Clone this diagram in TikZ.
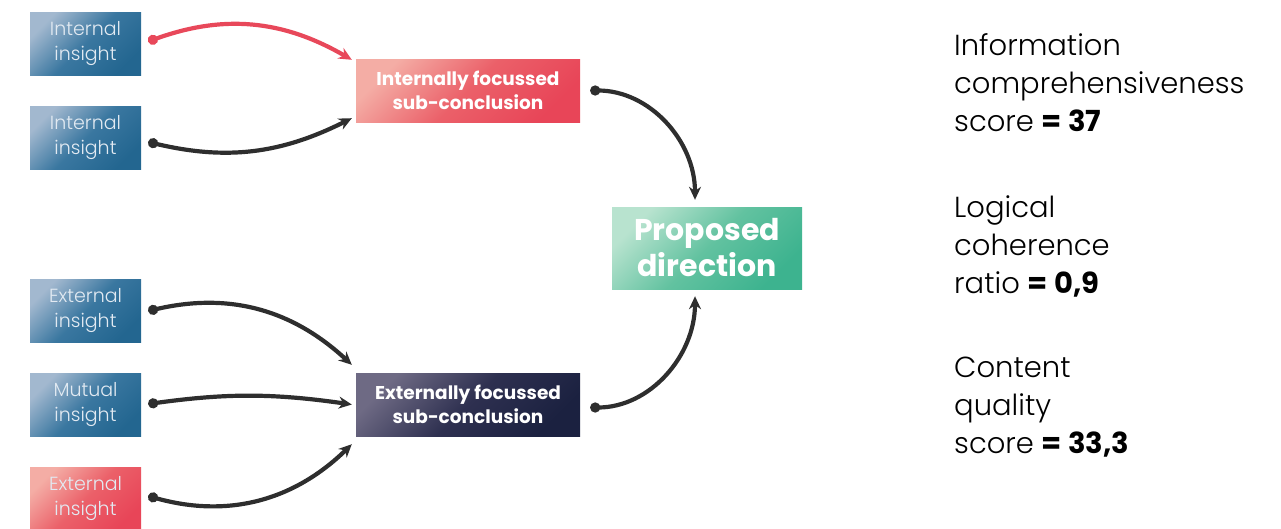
\documentclass[tikz,border=0pt]{standalone}
\usepackage{fontspec}
\setmainfont{Poppins}
\IfFontExistsTF{Poppins Light}{\newfontfamily\lightfont{Poppins Light}}{\newfontfamily\lightfont{Lato}}
\usetikzlibrary{arrows.meta}
\definecolor{bluelight}{HTML}{A2B8CF}
\definecolor{bluemid}{HTML}{3A77A0}
\definecolor{bluedark}{HTML}{236690}
\definecolor{redlight}{HTML}{F4ADA5}
\definecolor{redmid}{HTML}{EB6069}
\definecolor{reddark}{HTML}{E84558}
\definecolor{greenlight}{HTML}{B8E3CF}
\definecolor{greenmid}{HTML}{62C2A0}
\definecolor{greendark}{HTML}{3DB38F}
\definecolor{navylight}{HTML}{6E6A84}
\definecolor{navymid}{HTML}{2E3050}
\definecolor{navydark}{HTML}{1B2140}
\definecolor{linkgray}{HTML}{2E2E2E}
\definecolor{linkred}{HTML}{E8485A}
\definecolor{insighttext}{HTML}{E2EAF2}
\begin{document}
\begin{tikzpicture}[x=1pt,y=-1pt,
  box/.style={minimum width=111pt, minimum height=63pt, inner sep=0pt, align=center,
    font=\lightfont\fontsize{19}{25}\selectfont, text=insighttext},
  bluebox/.style={box, top color=bluelight, bottom color=bluedark, middle color=bluemid, shading angle=45},
  redbox/.style={box, top color=redlight, bottom color=reddark, middle color=redmid, shading angle=45},
  subbox/.style={minimum width=224pt, minimum height=63pt, inner sep=0pt, align=center,
    font=\bfseries\fontsize{18.5}{24}\selectfont, text=white},
  subred/.style={subbox, top color=redlight, bottom color=reddark, middle color=redmid, shading angle=45},
  subnavy/.style={subbox, top color=navylight, bottom color=navydark, middle color=navymid, shading angle=45},
  resultbox/.style={minimum width=190pt, minimum height=82pt, inner sep=0pt, align=center,
    font=\bfseries\fontsize{30}{36}\selectfont, text=white,
    top color=greenlight, bottom color=greendark, middle color=greenmid, shading angle=45},
  link/.style={line width=4.2pt, draw=linkgray, {Circle[length=10pt]}-{Stealth[length=13pt,width=12pt]}},
  redlink/.style={link, draw=linkred},
  metric/.style={anchor=north west, align=left, inner sep=0pt,
    font=\lightfont\fontsize{29}{38}\selectfont, text=black}
]
\useasboundingbox (0,0) rectangle (1281,528);
\clip (0,0) rectangle (1281,528);

% input insights
\node[bluebox] (i1) at (85.5,43.5) {Internal\\insight};
\node[bluebox] (i2) at (85.5,138) {Internal\\insight};
\node[bluebox] (e1) at (85.5,311) {External\\insight};
\node[bluebox] (m1) at (85.5,405) {Mutual\\insight};
\node[redbox]  (e2) at (85.5,499) {External\\insight};

% sub-conclusions and result
\node[subred]  (s1) at (468,90.5) {Internally focussed\\sub-conclusion};
\node[subnavy] (s2) at (468,404.5) {Externally focussed\\sub-conclusion};
\node[resultbox] (pd) at (707,248) {Proposed\\direction};

% connectors
\draw[redlink] ([xshift=7pt,yshift=2pt]i1.east) to[bend left=25] ([xshift=-4pt,yshift=-1pt]s1.north west);
\draw[link] ([xshift=7pt,yshift=-4pt]i2.east) to[bend right=20] ([xshift=-4pt,yshift=4pt]s1.south west);
\draw[link] ([xshift=7pt]e1.east) to[bend left=28] ([xshift=-4pt,yshift=8pt]s2.north west);
\draw[link] ([xshift=7pt,yshift=1pt]m1.east) to[bend left=8] ([xshift=-4pt]s2.west);
\draw[link] ([xshift=7pt,yshift=3pt]e2.east) to[bend right=30] ([xshift=-4pt,yshift=-8pt]s2.south west);
\draw[link] ([xshift=10pt]s1.east) to[out=0,in=90] ([xshift=-12pt,yshift=7pt]pd.north);
\draw[link] ([xshift=10pt,yshift=-3pt]s2.east) to[out=0,in=-90] ([xshift=-12pt,yshift=-7pt]pd.south);

% metrics
\node[metric] (t1) at (954,33) {Information\\comprehensiveness\\score {\normalfont\bfseries = 37}};
\node[metric] (t2) at (954,195) {Logical\\coherence\\ratio {\normalfont\bfseries = 0,9}};
\node[metric] (t3) at (954,357) {Content\\quality\\score {\normalfont\bfseries = 33,3}};
\end{tikzpicture}
\end{document}
